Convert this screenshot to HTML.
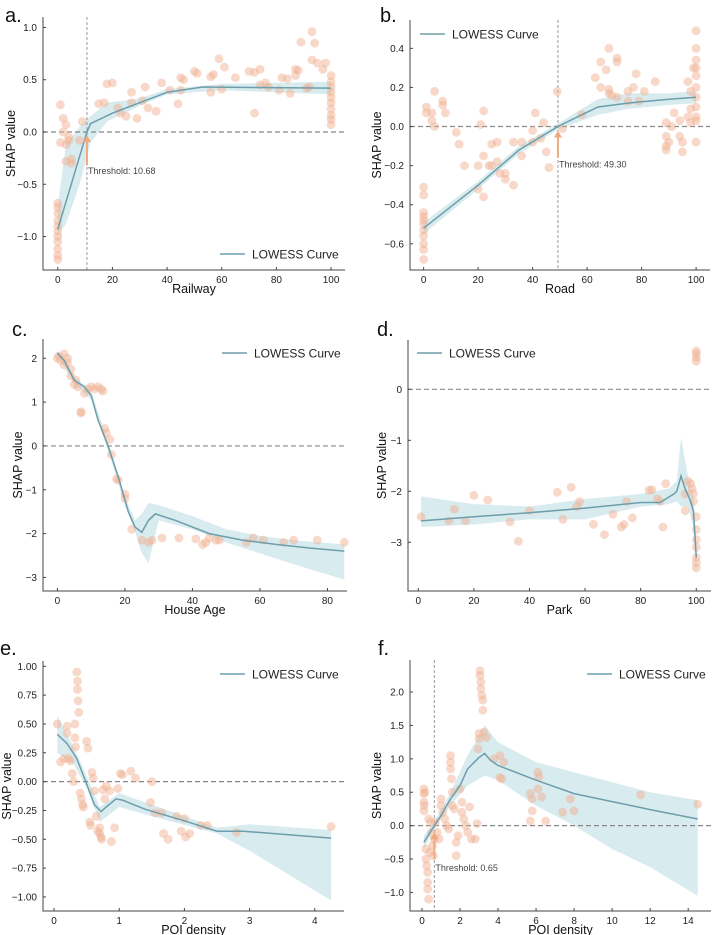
<!DOCTYPE html>
<html><head><meta charset="utf-8">
<style>
html,body{margin:0;padding:0;background:#fff;}
svg{display:block;font-family:"Liberation Sans","DejaVu Sans",sans-serif;}
</style></head>
<body>
<svg id="fig" width="712" height="935" viewBox="0 0 712 935" xmlns="http://www.w3.org/2000/svg"></svg>
<script>
// ---- Panel a: Railway ----
const aX = [0,0,0,0,0,0,0,0,0,0,0,1,1,2,2,3,3,3,4,4,5,5,8,9,15,17,18,20,22,23,25,27,27,29,31,32,33,36,38,41,44,45,45,46,50,51,56,56,57,59,60,61,65,70,72,72,74,74,76,77,81,82,84,85,87,87,88,89,91,92,93,93,94,95,97,98,100,100,100,100,100,100,100,100,100,100];
const aY = [-1.22,-1.18,-1.12,-1.05,-1.0,-0.95,-0.9,-0.85,-0.78,-0.72,-0.68,0.26,-0.1,0.13,0.0,0.07,-0.12,-0.28,-0.05,-0.08,-0.26,-0.3,-0.08,0.1,0.27,0.28,0.46,0.47,0.23,0.18,0.15,0.28,0.38,0.13,0.3,0.43,0.23,0.2,0.47,0.4,0.27,0.4,0.52,0.5,0.58,0.56,0.38,0.53,0.55,0.7,0.41,0.62,0.52,0.58,0.57,0.18,0.6,0.45,0.47,0.43,0.4,0.52,0.51,0.37,0.6,0.54,0.59,0.86,0.42,0.43,0.96,0.69,0.85,0.66,0.6,0.66,0.07,0.12,0.16,0.22,0.28,0.33,0.38,0.43,0.48,0.54];
const aCurveX = [0,10.68,12,20,30,40,53,100];
const aCurveY = [-0.93,0,0.08,0.18,0.28,0.38,0.43,0.42];
const aBandX = [0,3,8,12,18,30,40,60,100];
const aBandLo = [-0.98,-0.88,-0.5,-0.1,0.1,0.25,0.36,0.4,0.36];
const aBandHi = [-0.7,-0.12,0.05,0.15,0.28,0.32,0.41,0.46,0.48];

// ---- Panel b: Road ----
const bX = [0,0,0,0,0,0,0,0,0,0,0,1,1,3,3,4,4,7,7,8,12,13,15,20,20,21,22,22,22,24,25,25,27,27,28,30,30,33,33,36,36,40,40,41,43,44,45,46,49,51,58,63,65,65,67,68,68,68,69,71,71,71,75,75,77,78,79,81,85,89,89,89,89,90,91,92,94,94,95,95,97,97,98,98,98,99,100,100,100,100,100,100,100,100,100,100,100];
const bY = [-0.31,-0.35,-0.44,-0.46,-0.48,-0.5,-0.53,-0.56,-0.6,-0.63,-0.68,0.1,0.07,0.07,0.03,0.18,0,0.13,0.11,0.07,-0.03,-0.09,-0.2,-0.2,-0.32,0.01,0.08,-0.15,-0.36,-0.2,-0.09,-0.2,-0.18,-0.08,-0.24,-0.27,-0.24,-0.3,-0.08,-0.08,-0.15,-0.02,-0.08,0.07,-0.06,0.02,-0.13,-0.21,0.18,-0.01,0.06,0.25,0.2,0.33,0.29,0.4,0.19,0.17,0.16,0.35,0.33,0.15,0.18,0.13,0.2,0.27,0.13,0.18,0.23,0.02,-0.05,-0.1,-0.12,-0.08,0,0.07,0.03,-0.05,-0.08,-0.13,0.23,0.05,0.18,0.09,0.02,0.3,0.49,0.4,0.34,0.3,0.26,0.2,0.15,0.1,0.05,0.03,-0.08];
const bCurveX = [0,20,35,49.3,58,64,75,90,100];
const bCurveY = [-0.52,-0.3,-0.12,0,0.06,0.1,0.12,0.14,0.15];
const bBandX = [0,20,35,49.3,58,64,75,90,100];
const bBandLo = [-0.55,-0.32,-0.14,-0.015,0.03,0.06,0.09,0.11,0.12];
const bBandHi = [-0.49,-0.28,-0.1,0.015,0.09,0.14,0.17,0.17,0.18];

// ---- Panel c: House Age ----
const cX = [0,0.5,1,2,2,3,3,4,4,5,5.5,6,7,7,8,9,10,11,12,13,13.5,14,14.5,15.5,16,17.5,18,20,20,22,25,27,28,31,36,41,43,44,45,47,48,56,58,61,67,70,77,85];
const cY = [2.0,2.05,1.95,2.1,1.85,2.0,1.9,1.75,1.6,1.4,1.5,1.35,0.78,0.75,1.2,1.3,1.35,1.3,1.35,1.3,1.25,0.4,0.3,0.15,-0.2,-0.75,-0.78,-1.1,-1.2,-1.9,-2.15,-2.2,-2.15,-2.1,-2.1,-2.12,-2.25,-2.2,-2.1,-2.15,-2.15,-2.2,-2.1,-2.15,-2.2,-2.15,-2.15,-2.2];
const cCurveX = [0,2,5,8,10,12,15,18,21,23,25,27,29,35,45,55,65,75,85];
const cCurveY = [2.12,1.95,1.5,1.35,1.15,0.6,0,-0.7,-1.5,-1.85,-1.97,-1.7,-1.55,-1.7,-2.0,-2.15,-2.25,-2.33,-2.4];
const cBandX = [0,5,10,15,20,23,25,27,30,40,50,60,70,85];
const cBandLo = [2.07,1.42,1.05,-0.1,-1.35,-1.95,-2.45,-2.68,-1.7,-1.9,-2.2,-2.45,-2.7,-3.05];
const cBandHi = [2.17,1.58,1.25,0.1,-1.15,-1.7,-1.55,-1.3,-1.35,-1.6,-1.9,-2.05,-2.15,-2.25];

// ---- Panel d: Park ----
const dX = [1,11,13,17,20,25,33,36,40,50,52,55,57,58,63,67,70,73,74,75,77,83,84,86,87,88,89,96,96,97,98,98.5,99,99,100,100,100,100,100,100,100,100,100,100,100];
const dY = [-2.5,-2.58,-2.35,-2.58,-2.08,-2.17,-2.6,-2.98,-2.38,-2.02,-2.55,-1.92,-2.3,-2.2,-2.65,-2.85,-2.45,-2.7,-2.65,-2.2,-2.52,-1.98,-1.97,-2.15,-2.2,-2.7,-1.85,-2.05,-2.38,-1.8,-1.85,-1.95,-2.2,-2.05,-2.5,-2.75,-2.95,-3.1,-3.3,-3.4,-3.5,0.55,0.62,0.7,0.75];
const dCurveX = [1,20,40,60,80,87,92,93,94.5,96,98,99,100];
const dCurveY = [-2.58,-2.5,-2.42,-2.33,-2.22,-2.22,-2.05,-2.0,-1.7,-1.95,-2.2,-2.4,-3.3];
const dBandX = [1,20,40,60,80,90,93,94.5,97,99,100];
const dBandLo = [-2.7,-2.65,-2.55,-2.55,-2.3,-2.25,-2.2,-2.3,-2.3,-2.7,-3.7];
const dBandHi = [-2.1,-2.25,-2.3,-2.15,-2.05,-1.95,-1.8,-0.95,-1.7,-2.1,-3.0];

// ---- Panel e: POI density ----
const eX = [0.05,0.1,0.15,0.2,0.2,0.22,0.25,0.28,0.3,0.32,0.32,0.33,0.35,0.36,0.36,0.37,0.38,0.4,0.42,0.44,0.45,0.5,0.52,0.55,0.56,0.58,0.6,0.62,0.65,0.67,0.7,0.7,0.72,0.73,0.75,0.78,0.8,0.85,0.88,0.93,0.98,1.02,1.05,1.18,1.25,1.48,1.5,1.55,1.65,1.68,1.75,1.88,1.95,2.0,2.02,2.08,2.25,2.35,2.8,4.25];
const eY = [0.5,0.17,0.2,0.48,0.42,0.2,0.18,0.07,0.0,0.5,0.38,0.3,0.95,0.87,0.8,0.7,0.6,-0.1,-0.15,-0.2,-0.22,0.35,0.29,-0.35,-0.38,0.08,0.03,-0.08,-0.3,-0.43,-0.4,-0.45,-0.48,-0.5,-0.07,-0.15,-0.04,-0.08,-0.52,-0.4,-0.06,0.07,0.06,0.09,0.03,-0.18,0.0,-0.27,-0.27,-0.45,-0.5,-0.3,-0.43,-0.32,-0.48,-0.45,-0.38,-0.38,-0.44,-0.39];
const eCurveX = [0.05,0.2,0.35,0.5,0.62,0.72,0.8,0.95,1.05,1.4,2.0,2.5,2.9,4.25];
const eCurveY = [0.41,0.33,0.2,-0.02,-0.2,-0.26,-0.22,-0.15,-0.16,-0.24,-0.34,-0.43,-0.43,-0.49];
const eBandX = [0.05,0.3,0.5,0.7,1.0,1.5,2.5,3.0,4.25];
const eBandLo = [0.25,0.15,-0.05,-0.35,-0.22,-0.3,-0.45,-0.6,-1.03];
const eBandHi = [0.57,0.3,0.05,-0.22,-0.1,-0.2,-0.4,-0.37,-0.42];

// ---- Panel f: POI density ----
const fX = [0.1,0.1,0.1,0.1,0.12,0.15,0.2,0.2,0.25,0.3,0.3,0.3,0.35,0.35,0.4,0.45,0.5,0.55,0.6,0.65,0.7,0.8,0.9,1.0,1.0,1.1,1.2,1.3,1.4,1.5,1.5,1.5,1.55,1.6,1.6,1.7,1.8,1.8,1.9,2.0,2.1,2.1,2.2,2.3,2.4,2.5,2.6,2.8,2.9,2.95,3.0,3.0,3.05,3.05,3.1,3.1,3.15,3.2,3.2,3.25,3.4,3.8,4.1,4.3,4.1,4.2,5.7,5.8,5.8,5.7,6.1,6.15,6.1,6.3,6.5,7.4,7.8,8.0,11.5,14.5];
const fY = [0.55,0.48,0.35,0.22,0.3,0.5,-0.35,-0.5,-0.6,-0.7,-0.85,-0.95,-1.1,0.1,-0.4,0.05,-0.1,-0.3,-0.45,-0.2,0.05,-0.1,-0.2,0.4,0.3,0.2,0.1,0.0,-0.05,1.05,0.95,0.85,0.7,0.5,0.3,0.25,-0.25,-0.45,-0.15,0.55,0.35,0.2,0.1,0.0,-0.1,0.28,-0.2,-0.2,0.03,1.15,1.3,1.38,2.32,2.25,2.15,2.05,1.95,1.88,1.73,1.4,1.32,1.0,1.05,0.95,0.72,0.7,0.48,0.4,0.22,0.07,0.8,0.73,0.55,0.43,0.07,0.2,0.4,0.22,0.46,0.32];
const fCurveX = [0.1,0.65,1.0,1.5,2.0,2.4,3.0,3.3,3.6,4,6,8,10,12,14.5];
const fCurveY = [-0.25,0,0.15,0.4,0.6,0.85,1.02,1.08,0.98,0.9,0.68,0.48,0.36,0.24,0.1];
const fBandX = [0.1,0.65,1.5,2.4,3.3,4.0,6,8,10,12,14.5];
const fBandLo = [-0.35,-0.05,0.3,0.6,0.75,0.68,0.3,0.0,-0.35,-0.62,-1.05];
const fBandHi = [-0.15,0.05,0.5,1.05,1.5,1.25,0.95,0.8,0.65,0.5,0.38];

// tick label arrays
const aXTicks = [0,20,40,60,80,100];
const aYTicks = [-1.0,-0.5,0.0,0.5,1.0];
const bXTicks = [0,20,40,60,80,100];
const bYTicks = [-0.6,-0.4,-0.2,0.0,0.2,0.4];
const cXTicks = [0,20,40,60,80];
const cYTicks = [-3,-2,-1,0,1,2];
const dXTicks = [0,20,40,60,80,100];
const dYTicks = [-3,-2,-1,0];
const eXTicks = [0,1,2,3,4];
const eYTicks = [-1.0,-0.75,-0.5,-0.25,0,0.25,0.5,0.75,1.0];
const fXTicks = [0,2,4,6,8,10,12,14];
const fYTicks = [-1.0,-0.5,0.0,0.5,1.0,1.5,2.0];

const NS = "http://www.w3.org/2000/svg";
const svg = document.getElementById('fig');
function mk(tag, attrs, parent){
  const e = document.createElementNS(NS, tag);
  for (const k in attrs) e.setAttribute(k, attrs[k]);
  (parent||svg).appendChild(e);
  return e;
}
function fmt(v, d){ const s = v.toFixed(d); return v < 0 ? '\u2212' + s.slice(1) : s; }

function panel(cfg){
  const g = mk('g', {});
  
  
  const [L, R, T, B] = cfg.box;
  const sx = v => L + (v - cfg.xlim[0]) / (cfg.xlim[1] - cfg.xlim[0]) * (R - L);
  const sy = v => B - (v - cfg.ylim[0]) / (cfg.ylim[1] - cfg.ylim[0]) * (B - T);
  let d = '';
  cfg.bandX.forEach((x,i)=>{ d += (i?'L':'M') + sx(x).toFixed(1) + ',' + sy(cfg.bandHi[i]).toFixed(1); });
  for (let i = cfg.bandX.length-1; i >= 0; i--) d += 'L' + sx(cfg.bandX[i]).toFixed(1) + ',' + sy(cfg.bandLo[i]).toFixed(1);
  const band = mk('path', {d: d + 'Z', fill: 'rgba(178,216,224,0.5)', stroke: 'none'}, g);
  
  
  const zl = mk('line', {x1: L, x2: R, y1: sy(0), y2: sy(0), stroke: '#888', 'stroke-width': 1.2, 'stroke-dasharray': '5,3'}, g);
  
  
  if (cfg.thr !== undefined){
    const tl = mk('line', {x1: sx(cfg.thr), x2: sx(cfg.thr), y1: T, y2: B, stroke: '#999', 'stroke-width': 1, 'stroke-dasharray': '3,2'}, g);
    
    
  }
  cfg.sx.forEach((x,i)=>{
    const c = mk('circle', {cx: sx(x), cy: sy(cfg.sy[i]), r: 4.4, fill: 'rgba(240,178,148,0.5)'}, g);
    
    
  });
  const pts = cfg.cx.map((x,i)=> sx(x).toFixed(1) + ',' + sy(cfg.cy[i]).toFixed(1)).join(' ');
  const cl = mk('polyline', {points: pts, fill: 'none', stroke: '#6d9eab', 'stroke-width': 1.5}, g);
  
  
  if (cfg.thr !== undefined){
    const ax = sx(cfg.thr);
    const ar = mk('line', {x1: ax, x2: ax, y1: sy(cfg.arrowFrom), y2: sy(cfg.arrowTo)+6, stroke: '#eeaa80', 'stroke-width': 2}, g);
    
    
    const ah = mk('path', {d: `M${ax-4},${sy(cfg.arrowTo)+7}L${ax},${sy(cfg.arrowTo)}L${ax+4},${sy(cfg.arrowTo)+7}Z`, fill: '#eeaa80'}, g);
    
    
    const tt = mk('text', {x: ax + 1, y: sy(cfg.labelY), 'font-size': 9, fill: '#444'}, g);
    tt.textContent = 'Threshold: ' + cfg.thr.toFixed(2);
    
    
  }
  const sp = mk('path', {d: `M${L},${T}L${L},${B}L${R},${B}`, fill: 'none', stroke: '#444', 'stroke-width': 1}, g);
  
  
  cfg.xt.forEach(v=>{
    const x = sx(v);
    mk('line', {x1: x, x2: x, y1: B, y2: B-3, stroke: '#444'}, g);
    const t = mk('text', {x: x, y: B + 13, 'font-size': 10, 'text-anchor': 'middle', fill: '#222'}, g);
    t.textContent = fmt(v, cfg.xd);
    
    
  });
  cfg.yt.forEach(v=>{
    const y = sy(v);
    mk('line', {x1: L, x2: L+3, y1: y, y2: y, stroke: '#444'}, g);
    const t = mk('text', {x: L - 6, y: y + 3.5, 'font-size': 10, 'text-anchor': 'end', fill: '#222'}, g);
    t.textContent = fmt(v, cfg.yd);
    
    
  });
  const xl = mk('text', {x: (L+R)/2, y: B + 23, 'font-size': 12.5, 'text-anchor': 'middle', fill: '#111'}, g);
  xl.textContent = cfg.xlabel;
  
  
  const yl = mk('text', {x: 0, y: 0, 'font-size': 12.5, 'text-anchor': 'middle', fill: '#111', transform: `translate(${cfg.ylx},${(T+B)/2}) rotate(-90)`}, g);
  yl.textContent = 'SHAP value';
  
  
  const lt = mk('text', {x: cfg.letter[0], y: cfg.letter[1], 'font-size': 20, fill: '#111'}, g);
  lt.textContent = cfg.id + '.';
  
  
  const lg = mk('g', {}, g);
  
  
  mk('line', {x1: cfg.leg[0], x2: cfg.leg[0]+25, y1: cfg.leg[1], y2: cfg.leg[1], stroke: '#6d9eab', 'stroke-width': 1.5}, lg);
  const lgt = mk('text', {x: cfg.leg[0] + 32, y: cfg.leg[1] + 4.5, 'font-size': 12, fill: '#222'}, lg);
  lgt.textContent = 'LOWESS Curve';
}

panel({id:'a', box:[43,345,17,270], xlim:[-5.4,105.1], ylim:[-1.32,1.1],
  sx:aX, sy:aY, cx:aCurveX, cy:aCurveY, bandX:aBandX, bandLo:aBandLo, bandHi:aBandHi,
  xt:aXTicks, yt:aYTicks, xd:0, yd:1, xlabel:'Railway', ylx:15, letter:[5,22], leg:[220,254],
  thr:10.68, arrowFrom:-0.32, arrowTo:-0.03, labelY:-0.4});
panel({id:'b', box:[410,710,20,270], xlim:[-5.0,105.1], ylim:[-0.734,0.545],
  sx:bX, sy:bY, cx:bCurveX, cy:bCurveY, bandX:bBandX, bandLo:bBandLo, bandHi:bBandHi,
  xt:bXTicks, yt:bYTicks, xd:0, yd:1, xlabel:'Road', ylx:381, letter:[380,22], leg:[420,34],
  thr:49.30, arrowFrom:-0.16, arrowTo:-0.02, labelY:-0.21});
panel({id:'c', box:[43,347,339,591], xlim:[-4.27,85.8], ylim:[-3.31,2.44],
  sx:cX, sy:cY, cx:cCurveX, cy:cCurveY, bandX:cBandX, bandLo:cBandLo, bandHi:cBandHi,
  xt:cXTicks, yt:cYTicks, xd:0, yd:0, xlabel:'House Age', ylx:22, letter:[12,336], leg:[222,353]});
panel({id:'d', box:[408,711,340,591], xlim:[-3.7,105.3], ylim:[-3.955,0.967],
  sx:dX, sy:dY, cx:dCurveX, cy:dCurveY, bandX:dBandX, bandLo:dBandLo, bandHi:dBandHi,
  xt:dXTicks, yt:dYTicks, xd:0, yd:0, xlabel:'Park', ylx:386, letter:[377,336], leg:[417,353]});
panel({id:'e', box:[43,344,661,911], xlim:[-0.169,4.448], ylim:[-1.122,1.046],
  sx:eX, sy:eY, cx:eCurveX, cy:eCurveY, bandX:eBandX, bandLo:eBandLo, bandHi:eBandHi,
  xt:eXTicks, yt:eYTicks, xd:0, yd:2, xlabel:'POI density', ylx:11, letter:[0,655], leg:[220,674]});
panel({id:'f', box:[410,711,660,911], xlim:[-0.63,15.2], ylim:[-1.278,2.48],
  sx:fX, sy:fY, cx:fCurveX, cy:fCurveY, bandX:fBandX, bandLo:fBandLo, bandHi:fBandHi,
  xt:fXTicks, yt:fYTicks, xd:0, yd:1, xlabel:'POI density', ylx:381, letter:[378,655], leg:[587,674],
  thr:0.65, arrowFrom:-0.5, arrowTo:-0.1, labelY:-0.68});
</script>
</body></html>
